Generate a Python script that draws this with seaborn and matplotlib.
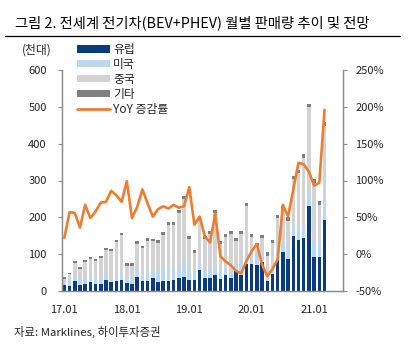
import matplotlib
matplotlib.use("Agg")
import matplotlib.pyplot as plt
import seaborn as sns
import numpy as np
import pandas as pd
from matplotlib.patches import Patch
from matplotlib.lines import Line2D

sns.set_theme(style="white")
plt.rcParams['font.family'] = ['Noto Sans CJK KR', 'DejaVu Sans']

# ---- data (thousand units, monthly 2017.01 - 2021.03) ----
europe = [16, 14, 27, 16, 19, 25, 19, 18, 30, 25, 28, 30,
          21, 20, 39, 26, 26, 35, 25, 28, 28, 30, 34, 38,
          29, 29, 58, 34, 35, 44, 33, 44, 35, 55, 44, 73,
          74, 71, 78, 28, 47, 85, 107, 87, 148, 139, 143, 232,
          92, 93, 192]
usa = [14, 18, 13, 14, 20, 18, 15, 16, 19, 11, 13, 18,
       13, 15, 26, 20, 26, 22, 27, 43, 33, 36, 27, 50,
       30, 26, 25, 21, 24, 24, 22, 15, 22, 19, 33, 32,
       36, 29, 27, 11, 10, 20, 25, 30, 35, 36, 34, 47,
       35, 41, 51]
china = [3, 13, 36, 30, 40, 45, 48, 56, 63, 73, 92, 105,
         35, 34, 63, 70, 85, 78, 79, 82, 118, 114, 151, 162,
         83, 47, 111, 87, 96, 143, 72, 88, 98, 63, 79, 127,
         37, 21, 38, 57, 73, 93, 91, 74, 121, 145, 185, 220,
         166, 100, 206]
other = [5, 5, 5, 5, 5, 5, 5, 5, 5, 5, 5, 5,
         7, 7, 7, 7, 7, 7, 7, 7, 7, 7, 7, 7,
         8, 8, 8, 8, 8, 8, 8, 8, 8, 8, 8, 8,
         9, 9, 9, 9, 9, 9, 9, 9, 9, 9, 9, 9,
         11, 11, 11]
yoy = [22, 57, 56, 36, 67, 49, 58, 70, 71, 86, 80, 71,
       99, 49, 64, 88, 69, 51, 61, 65, 62, 67, 63, 65,
       91, 40, 51, 24, 16, 55, -3, -10, -15, -23, -26, -9,
       4, 14, -14, -30, -20, -7, 67, 51, 88, 124, 122, 112,
       93, 97, 196]
xtick_pos = [0, 12, 24, 36, 48]
xtick_labels = ['17.01', '18.01', '19.01', '20.01', '21.01']
left_ticks = [0, 100, 200, 300, 400, 500, 600]
right_ticks = [-50, 0, 50, 100, 150, 200, 250]
series_names = ['유럽', '미국', '중국', '기타']
line_name = 'YoY 증감률'

c_eu, c_us, c_cn, c_ot = '#0B3B7E', '#BDD7EE', '#D3D3D3', '#7F7F7F'
c_line = '#ED7D31'
tick_col = '#262626'
spine_col = '#8C8C8C'

n = len(europe)
months = np.arange(n)
df = pd.DataFrame({'m': months, 'eu': europe, 'us': usa, 'cn': china, 'ot': other})
df['lvl1'] = df['eu']
df['lvl2'] = df['lvl1'] + df['us']
df['lvl3'] = df['lvl2'] + df['cn']
df['lvl4'] = df['lvl3'] + df['ot']

fig = plt.figure(figsize=(4.1, 3.5), dpi=100)
ax = fig.add_axes([62/410, (350-291)/350, (343-62)/410, (291-70)/350])

for col, colr in [('lvl4', c_ot), ('lvl3', c_cn), ('lvl2', c_us), ('lvl1', c_eu)]:
    sns.barplot(data=df, x='m', y=col, color=colr, width=0.68, saturation=1,
                linewidth=0, ax=ax, order=list(months))

ax.set_xlim(-0.45, 53.55)
ax.set_ylim(0, 600)
ax.set_yticks(left_ticks)
ax.set_yticklabels([str(v) for v in left_ticks])
ax.set_xticks(xtick_pos)
ax.set_xticklabels(xtick_labels)
ax.set_xlabel('')
ax.set_ylabel('')
ax.tick_params(axis='y', direction='out', length=3, width=0.8, color=spine_col,
               labelsize=8, labelcolor=tick_col, pad=8, left=True)
ax.tick_params(axis='x', direction='in', length=3, width=0.8, color='#404040',
               labelsize=8, labelcolor=tick_col, pad=10, bottom=True)

ax2 = ax.twinx()
sns.lineplot(x=months, y=yoy, ax=ax2, color=c_line, linewidth=1.9)
ax2.set_ylim(-50, 250)
ax2.set_yticks(right_ticks)
ax2.set_yticklabels([f'{v}%' for v in right_ticks])
ax2.tick_params(axis='y', direction='out', length=3, width=0.8, color=spine_col,
                labelsize=8, labelcolor=tick_col, pad=6, right=True)
ax2.set_xlim(-0.45, 53.55)

for a in (ax, ax2):
    a.spines['top'].set_visible(False)
    for s in ('left', 'right', 'bottom'):
        a.spines[s].set_color(spine_col)
        a.spines[s].set_linewidth(0.9)
    a.grid(False)

handles = [Patch(facecolor=c, edgecolor='none') for c in (c_eu, c_us, c_cn, c_ot)]
handles.append(Line2D([0], [0], color=c_line, linewidth=2))
fig.legend(handles, series_names + [line_name], loc='upper left',
           bbox_to_anchor=(77/410, 1 - 43/350), bbox_transform=fig.transFigure,
           frameon=False, fontsize=8.5, handlelength=2.8, handleheight=0.6,
           labelspacing=0.16, handletextpad=0.25, borderpad=0, borderaxespad=0)

fig.text(15/410, 1 - 23/350, '그림 2. 전세계 전기차(BEV+PHEV) 월별 판매량 추이 및 전망',
         fontsize=10.3, color='black', ha='left', va='center')
fig.add_artist(Line2D([5/410, 400/410], [1 - 36/350, 1 - 36/350], color='black',
                      linewidth=0.9, transform=fig.transFigure))
fig.text(22/410, 1 - 50/350, '(천대)', fontsize=8.5, color=tick_col, ha='left', va='center')
fig.text(14/410, 1 - 332/350, '자료: Marklines, 하이투자증권', fontsize=8.2,
         color=tick_col, ha='left', va='center')

fig.savefig('out.png', dpi=100)
